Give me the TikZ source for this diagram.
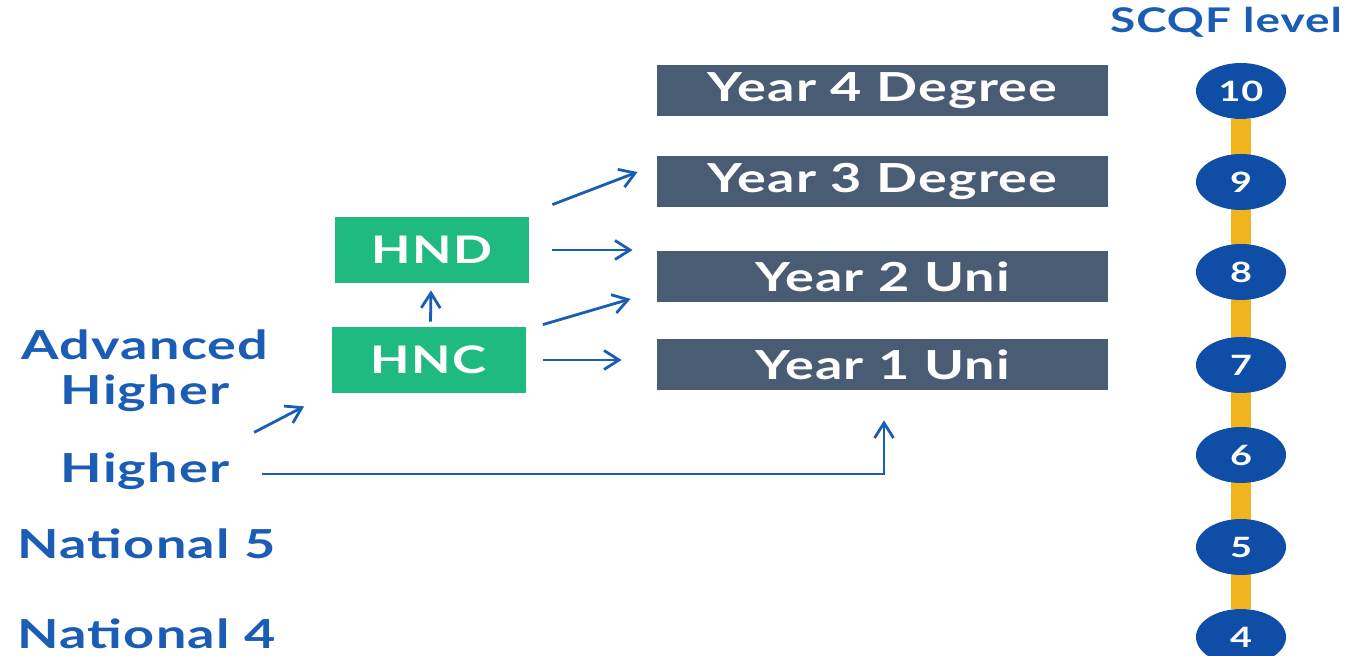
\documentclass[tikz,border=0pt]{standalone}
\usepackage{fontspec}
\setmainfont{Lato}[FakeStretch=1.35, LetterSpace=3]
\usetikzlibrary{shapes.geometric,arrows.meta,backgrounds}
\definecolor{slate}{HTML}{4A5C74}
\definecolor{hngreen}{HTML}{1FBA80}
\definecolor{scqfblue}{HTML}{1B5CB5}
\definecolor{lvlblue}{HTML}{0F4EA6}
\definecolor{rail}{HTML}{F2B41C}
\tikzset{
  degbox/.style={fill=slate, text=white, minimum width=225.5pt, minimum height=25.5pt, inner sep=0pt, font=\bfseries\fontsize{20}{22}\selectfont},
  hnbox/.style={fill=hngreen, text=white, minimum width=97pt, minimum height=33pt, inner sep=0pt, font=\bfseries\fontsize{19}{22}\selectfont},
  qual/.style={text=scqfblue, align=center, inner sep=1pt, font=\bfseries\fontsize{20}{22.5}\selectfont},
  lvl/.style={ellipse, fill=lvlblue, text=white, minimum width=45pt, minimum height=28pt, inner sep=0pt, font=\bfseries\fontsize{14}{16}\selectfont},
  arr/.style={draw=scqfblue, line width=1.4pt, -{Straight Barb[length=7.5pt,width=9.5pt]}}
}
\begin{document}
\begin{tikzpicture}[x=0.5pt, y=-0.5pt]
    \useasboundingbox (0,0) rectangle (1349,656);
    % degree years
    \node[degbox] (year4) at (882.5,91) {Year 4 Degree};
    \node[degbox] (year3) at (882.5,181.5) {Year 3 Degree};
    \node[degbox] (year2) at (882.5,277) {Year 2 Uni};
    \node[degbox] (year1) at (882.5,364.5) {Year 1 Uni};
    % college
    \node[hnbox] (hnd) at (432,250) {HND};
    \node[hnbox] (hnc) at (428.5,360) {HNC};
    % school
    \node[qual] (advhigher) at (145,371) {Advanced\\Higher};
    \node[qual] (higher) at (145,471) {Higher};
    \node[qual] (nat5) at (146.5,544) {National 5};
    \node[qual] (nat4) at (146.5,634) {National 4};
    % scqf levels
    \node[text=scqfblue, font=\bfseries\fontsize{17}{20}\selectfont] (scqf) at (1226,22) {SCQF level};
    \foreach \lv/\y in {10/91, 9/182, 8/272, 7/365, 6/455, 5/547, 4/637}
        \node[lvl] (l\lv) at (1241,\y) {\lv};
    \begin{scope}[on background layer]
        \draw[rail, line width=10pt] (l10) -- (l4);
    \end{scope}
    % routes
    \draw[arr] ([shift={(2,-5)}]hnc.north) -- ([shift={(-1,7)}]hnd.south);
    \draw[arr] ([shift={(23,-12)}]hnd.north east) -- ([shift={(-19,-9.5)}]year3.west);
    \draw[arr] ([xshift=23*0.5pt]hnd.east) -- ([xshift=-24*0.5pt]hnd.east -| year2.west);
    \draw[arr] ([shift={(17,-2)}]hnc.north east) -- ([shift={(-26,-4)}]year2.south west);
    \draw[arr] ([xshift=17*0.5pt]hnc.east) -- ([xshift=-35*0.5pt]hnc.east -| year1.west);
    \draw[arr] ([shift={(-77,39)}]hnc.south west) -- ([shift={(-27,13)}]hnc.south west);
    \draw[arr] ([shift={(30,3)}]higher.east) -| ([shift={(1.5,30)}]year1.south);
\end{tikzpicture}
\end{document}
